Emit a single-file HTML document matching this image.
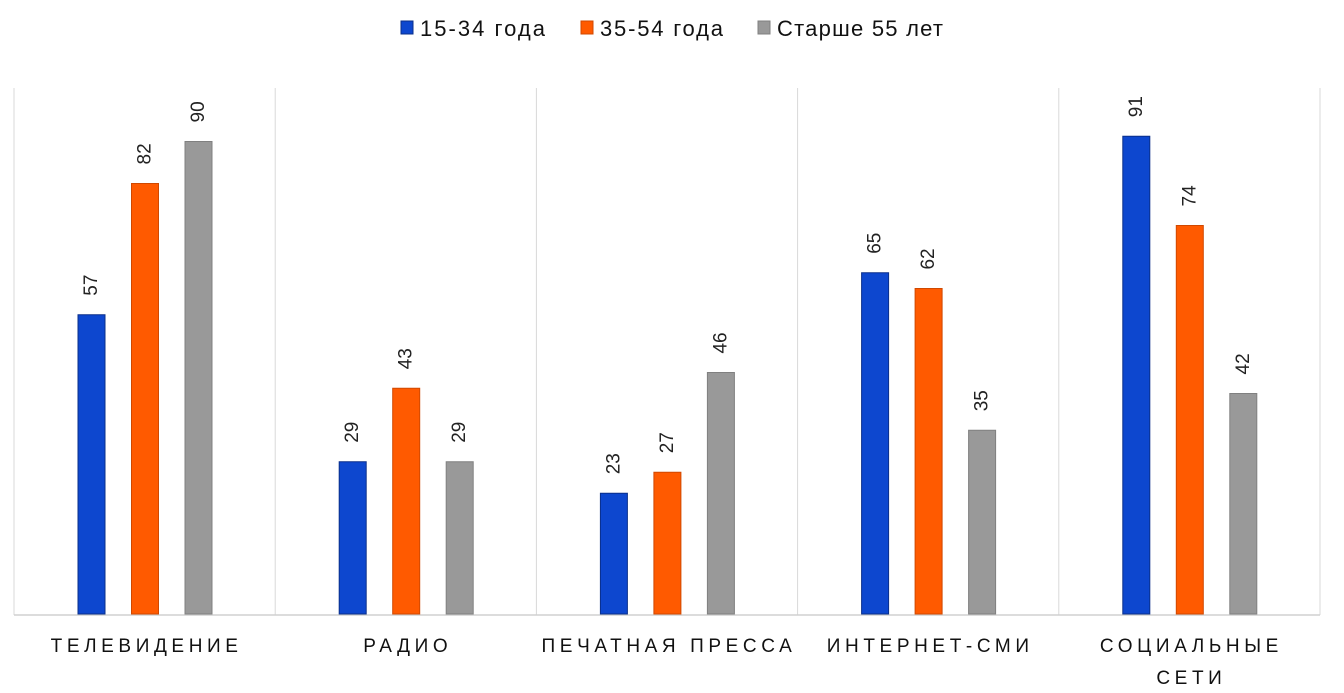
<!DOCTYPE html>
<html><head><meta charset="utf-8"><style>
body{margin:0;background:#fff;font-family:"Liberation Sans","DejaVu Sans",sans-serif}
svg{display:block}
</style></head><body>
<svg id="c" width="1344" height="693" xmlns="http://www.w3.org/2000/svg">
<g id="legend" font-size="22" fill="#111">
<g><rect x="401" y="21" width="12" height="13" fill="#0d47cf" stroke="#0a2f8a"/><text x="420" y="36" textLength="125">15-34 года</text></g>
<g><rect x="581" y="21" width="12" height="13" fill="#ff5a00" stroke="#d04800"/><text x="600" y="36" textLength="123">35-54 года</text></g>
<g><rect x="758" y="21" width="12" height="13" fill="#999" stroke="#808080"/><text x="777" y="36" textLength="166">Старше 55 лет</text></g>
</g>
<g id="plot"></g>
</svg>
<script>
const categories=[["ТЕЛЕВИДЕНИЕ"],["РАДИО"],["ПЕЧАТНАЯ ПРЕССА"],["ИНТЕРНЕТ-СМИ"],["СОЦИАЛЬНЫЕ","СЕТИ"]];
const young=[57,29,23,65,91];
const middle=[82,43,27,62,74];
const senior=[90,29,46,35,42];
const series=[young,middle,senior];
const fills=["#0d47cf","#ff5a00","#999999"];
const strokes=["#0a2f8a","#d04800","#808080"];
const L=14,R=1320,base=614,top0=88,unit=5.25;
const cw=(R-L)/categories.length;
const x=(i,s)=>L+i*cw+64+s*53.5;
const y=v=>base-v*unit;
const NS="http://www.w3.org/2000/svg";
const g=document.getElementById('plot');
function mk(t,a){const e=document.createElementNS(NS,t);for(const k in a)e.setAttribute(k,a[k]);g.appendChild(e);return e;}
for(let i=0;i<=categories.length;i++){
  const l=mk('line',{x1:L+i*cw,x2:L+i*cw,y1:top0,y2:base+1,stroke:'#d9d9d9','stroke-width':1});
  
  
}
const ax=mk('line',{x1:L,x2:R,y1:base+1,y2:base+1,stroke:'#d0d0d0','stroke-width':1.5});


categories.forEach((c,i)=>{
  series.forEach((arr,s)=>{
    const v=arr[i];
    const r=mk('rect',{x:x(i,s),y:y(v),width:27,height:base-y(v),fill:fills[s],stroke:strokes[s],'stroke-width':1});
    
    
    const cx=x(i,s)+13.5, ty=y(v)-19;
    const t=mk('text',{x:cx,y:ty,transform:`rotate(-90 ${cx} ${ty})`,'font-size':19,fill:'#222','dominant-baseline':'central'});
    t.textContent=v;
    
    
  });
  c.forEach((line,k)=>{
    const t=mk('text',{x:L+i*cw+cw/2+2,y:652+k*32,'font-size':19,fill:'#111','text-anchor':'middle','letter-spacing':'4.6'});
    t.textContent=line;
    
    
  });
});
</script>
</body></html>
